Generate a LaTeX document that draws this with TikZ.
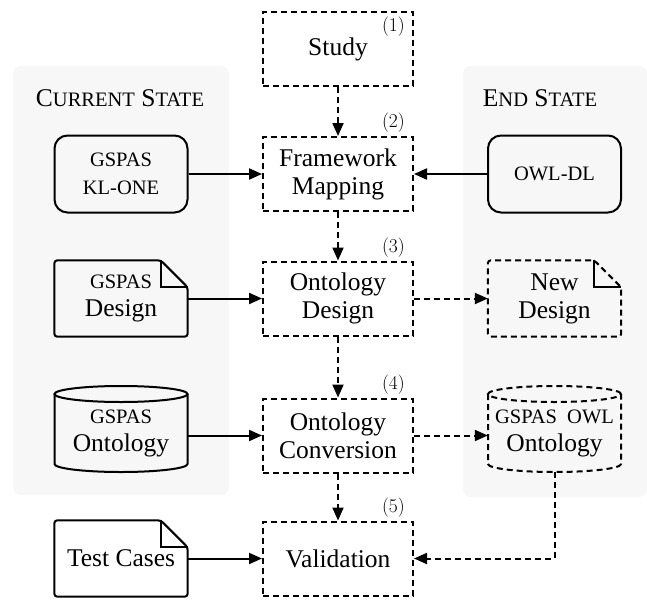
\documentclass[tikz,border=0pt]{standalone}
\usepackage{fontspec}
\newfontfamily\tms{Liberation Serif}
\usetikzlibrary{arrows.meta,calc}
\definecolor{panelgray}{RGB}{247,247,247}
\newcommand\smc[1]{{\fontsize{20.5}{24}\selectfont #1}}
\begin{document}
\begin{tikzpicture}[x=1pt,y=-1pt,
  every node/.style={font=\tms\fontsize{25.5}{28}\selectfont, align=center, inner sep=0pt},
  lw/.style={line width=2pt},
  dsh/.style={dash pattern=on 6pt off 4pt},
  proc/.style={draw, lw, dsh, minimum width=150pt, minimum height=74pt},
  rbox/.style={draw, lw, rounded corners=13pt, minimum width=133pt, minimum height=77pt},
  area/.style={minimum width=133pt, minimum height=76pt},
  conn/.style={lw, -{Triangle[length=13pt,width=11pt]}},
  dconn/.style={conn, dsh},
  steplbl/.style={font=\fontsize{19.5}{22}\selectfont, anchor=east},
]
\useasboundingbox (0,0) rectangle (647,599);

% panels
\fill[panelgray, rounded corners=8pt] (13,66) rectangle (229,495);
\fill[panelgray, rounded corners=8pt] (463,66) rectangle (647,497);
\node (tcur) at (120,98) {C\smc{URRENT} S\smc{TATE}};
\node (tend) at (540,98) {E\smc{ND} S\smc{TATE}};

% process steps
\node[proc] (study) at (338,49) {Study};
\node[proc] (fm) at (338,174) {Framework\\Mapping};
\node[proc] (od) at (338,298.5) {Ontology\\Design};
\node[proc] (oc) at (338,435.5) {Ontology\\Conversion};
\node[proc] (val) at (338,558.5) {Validation};

\node[steplbl] (l1) at ($(study.north east)+(-9,16)$) {(1)};
\node[steplbl] (l2) at ($(fm.north east)+(-9,-13)$) {(2)};
\node[steplbl] (l3) at ($(od.north east)+(-9,-13)$) {(3)};
\node[steplbl] (l4) at ($(oc.north east)+(-9,-13)$) {(4)};
\node[steplbl] (l5) at ($(val.north east)+(-9,-13)$) {(5)};

% left column
\node[rbox] (klone) at (121,174) {\smc{GSPAS}\\\smc{KL-ONE}};
\node[area] (gdes) at (121,298.5) {\smc{GSPAS}\\Design};
\node[area] (gont) at (121,433.5) {\smc{GSPAS}\\Ontology};
\node[area] (test) at (121,558.5) {Test Cases};

% right column
\node[rbox] (owl) at (554.5,174) {\smc{OWL-DL}};
\node[area] (newd) at (554.5,298.5) {New\\Design};
\node[area] (gowl) at (554.5,433.5) {\smc{GSPAS\ \ OWL}\\Ontology};
\coordinate (gowlbot) at ($(gowl.center)+(0,38.5)$);

% document shapes
\foreach \n in {gdes,test}{
  \draw[lw, rounded corners=3pt] ($(\n.north east)+(-27,0)$) -- (\n.north west) -- (\n.south west) -- (\n.south east) -- ($(\n.north east)+(0,27)$) -- cycle;
  \draw[lw] ($(\n.north east)+(-27,0)$) -- ++(0,27) -- ++(27,0);
}
\draw[lw, dsh, rounded corners=3pt] ($(newd.north east)+(-27,0)$) -- (newd.north west) -- (newd.south west) -- (newd.south east) -- ($(newd.north east)+(0,27)$) -- cycle;
\draw[lw] ($(newd.north east)+(-27,0)$) -- ++(0,27) -- ++(27,0);

% cylinders
\draw[lw] ($(gont.center)+(-66.5,-39.5)$) -- ($(gont.center)+(-66.5,30.5)$)
  arc[start angle=180, end angle=360, x radius=66.5pt, y radius=8pt] -- ($(gont.center)+(66.5,-39.5)$);
\draw[lw] ($(gont.center)+(0,-39.5)$) ellipse[x radius=66.5pt, y radius=8pt];
\draw[lw, dsh] ($(gowl.center)+(-66.5,-39.5)$) -- ($(gowl.center)+(-66.5,30.5)$)
  arc[start angle=180, end angle=360, x radius=66.5pt, y radius=8pt] -- ($(gowl.center)+(66.5,-39.5)$);
\draw[lw, dsh] ($(gowl.center)+(0,-39.5)$) ellipse[x radius=66.5pt, y radius=8pt];

% connectors
\draw[dconn] (study) -- (fm);
\draw[dconn] (fm) -- (od);
\draw[dconn] (od) -- (oc);
\draw[dconn] (oc) -- (val);
\draw[conn] (klone) -- (fm);
\draw[conn] (owl) -- (fm);
\draw[conn] (gdes) -- (od);
\draw[dconn] (od) -- (newd);
\draw[conn] (gont.east |- oc.west) -- (oc.west);
\draw[dconn] (oc.east) -- (gowl.west |- oc.east);
\draw[conn] (test) -- (val);
\draw[dconn] (gowlbot) |- (val.east);
\end{tikzpicture}
\end{document}
